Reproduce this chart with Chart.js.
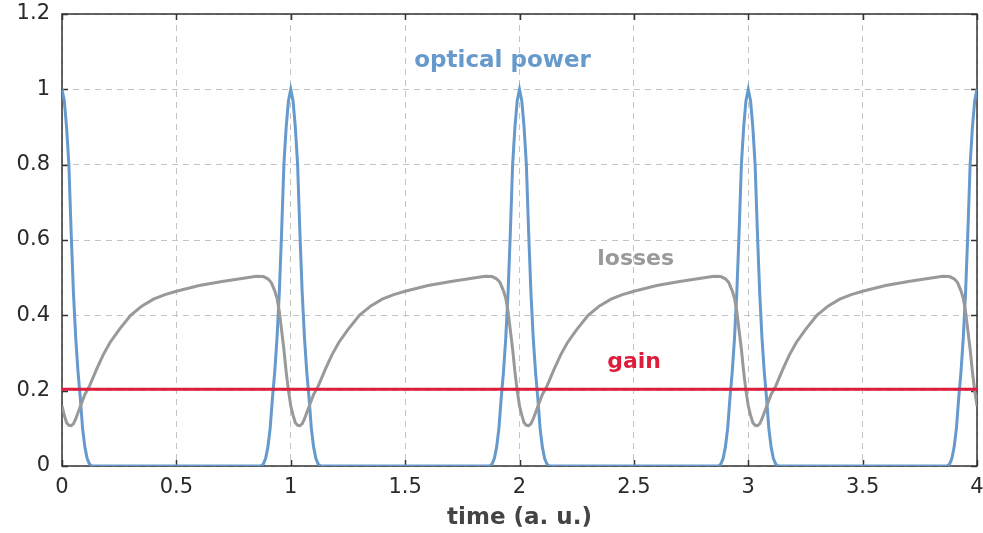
<!DOCTYPE html>
<html>
<head>
<meta charset="utf-8">
<script src="https://cdn.jsdelivr.net/npm/chart.js@4"></script>
<style>
  html, body { margin: 0; padding: 0; background: #fff; }
  #wrap { width: 983px; height: 533px; position: relative; }
</style>
</head>
<body>
<div id="wrap"><canvas id="chart"></canvas></div>
<script>
// one pulse of optical power, offsets from the pulse peak (a. u.)
const pulseOffsets = [-0.13, -0.12, -0.11, -0.10, -0.09, -0.08, -0.07, -0.06, -0.05, -0.04, -0.03, -0.02, -0.01,
  0, 0.01, 0.02, 0.03, 0.04, 0.05, 0.06, 0.07, 0.08, 0.09, 0.10, 0.11, 0.12, 0.13];
const pulseValues = [0, 0.005, 0.02, 0.05, 0.10, 0.18, 0.25, 0.34, 0.46, 0.62, 0.80, 0.90, 0.97,
  1.00, 0.97, 0.90, 0.80, 0.62, 0.46, 0.34, 0.25, 0.18, 0.10, 0.05, 0.02, 0.005, 0];
const pulseCenters = [0, 1, 2, 3, 4];

// one round trip of the saturable losses, offsets from the period start
const lossOffsets = [0, 0.01, 0.02, 0.03, 0.04, 0.05, 0.06, 0.08, 0.10, 0.12, 0.15, 0.18, 0.21, 0.25,
  0.30, 0.35, 0.40, 0.45, 0.50, 0.60, 0.70, 0.80, 0.85, 0.88, 0.90, 0.915, 0.93, 0.94, 0.95, 0.96,
  0.97, 0.98, 0.99, 1.00];
const lossValues = [0.160, 0.135, 0.115, 0.108, 0.107, 0.112, 0.125, 0.158, 0.190, 0.212, 0.255, 0.295,
  0.328, 0.362, 0.400, 0.425, 0.443, 0.455, 0.464, 0.479, 0.490, 0.499, 0.504, 0.503, 0.497, 0.487,
  0.465, 0.445, 0.410, 0.360, 0.310, 0.250, 0.200, 0.160];
const lossStarts = [0, 1, 2, 3];

const gainTimes = [0, 4];
const gainValues = [0.204, 0.204];

const xTicks = { min: 0, max: 4, step: 0.5 };
const yTicks = { min: 0, max: 1.2, step: 0.2 };

const curveLabels = [
  { text: 'optical power', x: 1.926, y: 1.059, color: '#6699cc', size: 23 },
  { text: 'losses', x: 2.508, y: 0.534, color: '#999999', size: 22 },
  { text: 'gain', x: 2.501, y: 0.260, color: '#dc1e3c', size: 22 }
];

function buildPower() {
  const pts = [];
  pulseCenters.forEach(c => {
    pulseOffsets.forEach((off, i) => {
      const x = c + off;
      if (x >= xTicks.min - 1e-9 && x <= xTicks.max + 1e-9) pts.push({ x: x, y: pulseValues[i] });
    });
  });
  return pts;
}

function buildLosses() {
  const pts = [];
  lossStarts.forEach((s, k) => {
    lossOffsets.forEach((off, i) => {
      if (off === 1 && k < lossStarts.length - 1) return;
      pts.push({ x: s + off, y: lossValues[i] });
    });
  });
  return pts;
}

const FONT = 'DejaVu Sans, Verdana, sans-serif';
const fmt = (v) => String(+Number(v).toFixed(1));

// frame + inward ticks on all four sides, like gnuplot
const framePlugin = {
  id: 'frame',
  beforeDatasetsDraw(chart) {
    const { ctx, chartArea: a, scales } = chart;
    ctx.save();
    ctx.strokeStyle = '#333';
    ctx.lineWidth = 1.5;
    ctx.strokeRect(a.left, a.top, a.right - a.left, a.bottom - a.top);
    ctx.beginPath();
    for (let v = yTicks.min; v <= yTicks.max + 1e-9; v += yTicks.step) {
      const py = Math.round(scales.y.getPixelForValue(v)) + 0.5;
      ctx.moveTo(a.left, py); ctx.lineTo(a.left + 6, py);
      ctx.moveTo(a.right, py); ctx.lineTo(a.right - 6, py);
    }
    for (let v = xTicks.min; v <= xTicks.max + 1e-9; v += xTicks.step) {
      const px = Math.round(scales.x.getPixelForValue(v)) + 0.5;
      ctx.moveTo(px, a.bottom); ctx.lineTo(px, a.bottom - 6);
      ctx.moveTo(px, a.top); ctx.lineTo(px, a.top + 6);
    }
    ctx.stroke();
    ctx.restore();
  },
  afterDatasetsDraw(chart) {
    const { ctx, scales } = chart;
    ctx.save();
    ctx.textAlign = 'center';
    ctx.textBaseline = 'alphabetic';
    curveLabels.forEach(l => {
      ctx.font = 'bold ' + l.size + 'px ' + FONT;
      ctx.fillStyle = l.color;
      ctx.fillText(l.text, scales.x.getPixelForValue(l.x), scales.y.getPixelForValue(l.y));
    });
    ctx.restore();
  }
};

new Chart(document.getElementById('chart'), {
  type: 'line',
  data: {
    datasets: [
      {
        label: 'gain',
        data: gainTimes.map((t, i) => ({ x: t, y: gainValues[i] })),
        borderColor: '#dc1e3c',
        borderWidth: 3,
        pointRadius: 0,
        order: 0
      },
      {
        label: 'losses',
        data: buildLosses(),
        borderColor: '#999999',
        borderWidth: 3,
        pointRadius: 0,
        order: 1
      },
      {
        label: 'optical power',
        data: buildPower(),
        borderColor: '#6699cc',
        borderWidth: 3,
        pointRadius: 0,
        order: 2
      }
    ]
  },
  options: {
    responsive: true,
    maintainAspectRatio: false,
    animation: false,
    events: [],
    layout: { padding: { top: 14, right: 6, left: 0, bottom: 0 } },
    plugins: {
      legend: { display: false },
      tooltip: { enabled: false }
    },
    elements: { line: { tension: 0 } },
    scales: {
      x: {
        type: 'linear',
        min: xTicks.min,
        max: xTicks.max,
        afterFit: (scale) => {
          scale.height = 67;
          scale.paddingLeft = 0;
          scale.paddingRight = 0;
        },
        ticks: {
          stepSize: xTicks.step,
          padding: 9,
          color: '#2a2a2a',
          font: { family: FONT, size: 21 },
          callback: fmt
        },
        grid: { color: '#c4c4c4', lineWidth: 1, drawTicks: false },
        border: { display: false, dash: [6, 5] },
        title: {
          display: true,
          text: 'time (a. u.)',
          color: '#444',
          font: { family: FONT, size: 23, weight: 'bold' },
          padding: { top: 0, bottom: 1 }
        }
      },
      y: {
        min: yTicks.min,
        max: yTicks.max,
        afterFit: (scale) => {
          scale.width = 62;
          scale.paddingTop = 0;
          scale.paddingBottom = 0;
        },
        ticks: {
          stepSize: yTicks.step,
          padding: 12,
          color: '#2a2a2a',
          font: { family: FONT, size: 21 },
          callback: fmt
        },
        grid: { color: '#c4c4c4', lineWidth: 1, drawTicks: false },
        border: { display: false, dash: [6, 5] }
      }
    }
  },
  plugins: [framePlugin]
});
</script>
</body>
</html>
